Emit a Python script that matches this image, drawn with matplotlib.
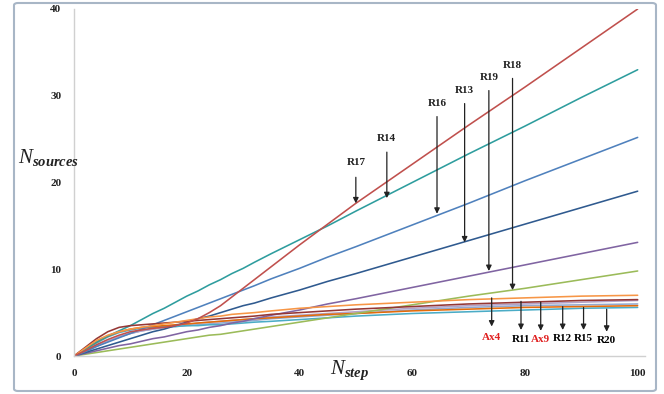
import matplotlib
matplotlib.use("Agg")
import matplotlib.pyplot as plt
from matplotlib.patches import FancyBboxPatch

plt.rcParams['font.family'] = 'Liberation Serif'
plt.rcParams['mathtext.fontset'] = 'custom'
plt.rcParams['mathtext.rm'] = 'Liberation Serif'
plt.rcParams['mathtext.it'] = 'Liberation Serif:italic'
plt.rcParams['mathtext.bf'] = 'Liberation Serif:bold'
plt.rcParams['mathtext.bfit'] = 'Liberation Serif:italic:bold'

# simulation steps
steps = [0, 2, 4, 6, 8, 10, 12, 14, 16, 18, 20, 22, 24, 26, 28, 30, 32, 35,
         40, 45, 50, 60, 70, 80, 90, 100]

# number of sources per run
red = [0, 0.6, 1.3, 1.9, 2.4, 2.8, 3.0, 3.2, 3.3, 3.5, 3.8, 4.3, 5.0, 5.8, 6.8,
       7.8, 8.8, 10.3, 12.8, 15.2, 17.6, 22.1, 26.6, 31.0, 35.5, 40.0]
teal = [0, 0.8, 1.6, 2.3, 2.9, 3.5, 4.2, 4.9, 5.5, 6.2, 6.9, 7.5, 8.2, 8.8, 9.5,
        10.1, 10.8, 11.8, 13.4, 15.0, 16.7, 20.0, 23.3, 26.5, 29.8, 33.0]
blue = [0, 0.5, 1.1, 1.6, 2.1, 2.6, 3.1, 3.6, 4.1, 4.6, 5.1, 5.6, 6.1, 6.6, 7.1,
        7.6, 8.1, 8.9, 10.1, 11.4, 12.6, 15.1, 17.6, 20.2, 22.7, 25.2]
navy = [0, 0.4, 0.8, 1.2, 1.6, 2.0, 2.4, 2.8, 3.1, 3.5, 3.9, 4.3, 4.6, 5.0, 5.4,
        5.8, 6.1, 6.7, 7.6, 8.6, 9.5, 11.4, 13.3, 15.2, 17.1, 19.0]
purple = [0, 0.3, 0.6, 0.9, 1.2, 1.4, 1.7, 2.0, 2.2, 2.5, 2.8, 3.0, 3.3, 3.5,
          3.8, 4.0, 4.3, 4.7, 5.3, 6.0, 6.6, 7.9, 9.2, 10.5, 11.8, 13.1]
green = [0, 0.2, 0.4, 0.6, 0.8, 1.0, 1.2, 1.4, 1.6, 1.8, 2.0, 2.2, 2.4, 2.5, 2.7,
         2.9, 3.1, 3.4, 3.9, 4.4, 4.9, 5.9, 6.9, 7.8, 8.8, 9.8]
orange = [0, 0.9, 1.8, 2.4, 2.8, 3.1, 3.3, 3.5, 3.7, 3.9, 4.1, 4.3, 4.5, 4.6,
          4.8, 4.9, 5.0, 5.2, 5.5, 5.7, 5.9, 6.2, 6.5, 6.7, 6.9, 7.0]
brown = [0, 1.0, 2.0, 2.8, 3.3, 3.5, 3.6, 3.7, 3.8, 3.9, 4.0, 4.1, 4.2, 4.3, 4.4,
         4.5, 4.6, 4.8, 5.0, 5.2, 5.4, 5.7, 6.0, 6.2, 6.4, 6.5]
lavender = [0, 0.6, 1.2, 1.7, 2.2, 2.6, 2.9, 3.1, 3.3, 3.5, 3.6, 3.8, 3.9, 4.0,
            4.1, 4.2, 4.3, 4.5, 4.7, 4.9, 5.1, 5.5, 5.8, 6.0, 6.2, 6.4]
grey = [0, 0.5, 1.1, 1.7, 2.2, 2.6, 2.9, 3.1, 3.3, 3.4, 3.5, 3.6, 3.7, 3.8, 3.9,
        4.0, 4.1, 4.3, 4.5, 4.7, 4.9, 5.3, 5.6, 5.8, 5.9, 6.0]
orange2 = [0, 0.8, 1.6, 2.3, 2.8, 3.1, 3.3, 3.4, 3.5, 3.6, 3.7, 3.8, 3.9, 4.0,
           4.1, 4.2, 4.3, 4.4, 4.6, 4.8, 4.9, 5.2, 5.4, 5.6, 5.7, 5.8]
cyan = [0, 0.7, 1.5, 2.2, 2.7, 3.0, 3.2, 3.3, 3.4, 3.4, 3.5, 3.5, 3.6, 3.6, 3.7,
        3.8, 3.9, 4.0, 4.2, 4.4, 4.6, 4.9, 5.1, 5.3, 5.5, 5.6]

series = [
    (grey, '#93a9cf'), (lavender, '#b3a2c7'), (cyan, '#4bacc6'),
    (orange2, '#e46c0a'), (green, '#9bbb59'), (purple, '#8064a2'),
    (navy, '#2f5a8f'), (blue, '#4f81bd'), (teal, '#2e9d9e'),
    (brown, '#953735'), (orange, '#f79646'), (red, '#c0504d'),
]

# arrow labels: name, x, text y, arrow start y, arrow tip y (, colour)
upper = [('R17', 50.0, 21.8, 20.6, 17.6), ('R14', 55.5, 24.6, 23.5, 18.2),
         ('R16', 64.4, 28.6, 27.6, 16.4), ('R13', 69.3, 30.1, 29.1, 13.1),
         ('R19', 73.6, 31.6, 30.6, 9.8), ('R18', 77.8, 33.0, 32.0, 7.6)]
lower = [('Ax4', 74.1, 2.1, 6.7, 3.4, '#e02020'), ('R11', 79.3, 1.9, 6.3, 3.0, 'black'),
         ('Ax9', 82.8, 1.9, 6.2, 2.9, '#e02020'), ('R12', 86.7, 2.0, 5.7, 3.0, 'black'),
         ('R15', 90.4, 2.0, 5.6, 3.0, 'black'), ('R20', 94.5, 1.8, 5.4, 2.8, 'black')]

fig = plt.figure(figsize=(6.64, 3.94), dpi=100)
ax = fig.add_axes([74 / 664, 1 - 356 / 394, 571 / 664, 347 / 394])

for vals, col in series:
    ax.plot(steps, vals, color=col, lw=1.15, solid_capstyle='round')

arrow = dict(arrowstyle='-|>', color='#222222', lw=0.9, mutation_scale=8,
             shrinkA=0, shrinkB=0)
for name, x, ty, y0, y1 in upper:
    ax.annotate('', xy=(x, y1), xytext=(x, y0), arrowprops=arrow)
    ax.text(x, ty, name, ha='center', va='bottom', fontsize=8,
            fontweight='bold', color='#222222')
for name, x, ty, y0, y1, col in lower:
    ax.annotate('', xy=(x, y1), xytext=(x, y0), arrowprops=arrow)
    ax.text(x, ty, name, ha='center', va='center', fontsize=8,
            fontweight='bold', color=col)

ax.set_xlim(0, 101.3)
ax.set_ylim(0, 40)
ax.set_xticks([0, 20, 40, 60, 80, 100])
ax.set_yticks([0, 10, 20, 30, 40])
for s in ['top', 'right']:
    ax.spines[s].set_visible(False)
for s in ['left', 'bottom']:
    ax.spines[s].set_color('#d0d0d0')
    ax.spines[s].set_linewidth(1.0)
ax.tick_params(length=0, labelsize=8, pad=9)
for lab in ax.get_xticklabels() + ax.get_yticklabels():
    lab.set_fontweight('bold')
    lab.set_color('#222222')

fig.text(18 / 664, 1 - 158 / 394, r'$N_{\mathbfit{sources}}$', fontsize=15,
         ha='left', va='center', color='#222222')
fig.text(330 / 664, 1 - 370 / 394, r'$N_{\mathbfit{step}}$', fontsize=15,
         ha='left', va='center', color='#222222')

frame = FancyBboxPatch((14 / 664, 3 / 394), 642 / 664, 388 / 394,
                       boxstyle='round,pad=0,rounding_size=0.006',
                       transform=fig.transFigure, fill=False,
                       edgecolor='#a8b6c6', lw=1.5)
fig.patches.append(frame)

fig.savefig('out.png', dpi=100)
